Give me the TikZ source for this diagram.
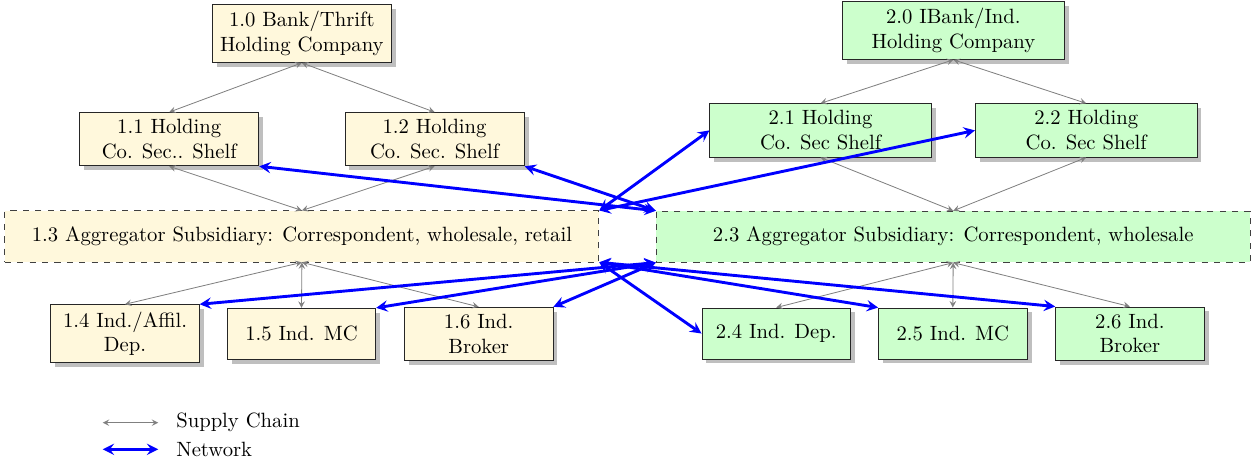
\documentclass[tikz,border=0pt]{standalone}
\usetikzlibrary{shadows,arrows}
\definecolor{cornsilk}{RGB}{255,248,220}
\definecolor{palegreen}{RGB}{204,255,204}
\begin{document}
\begin{tikzpicture}[x=0.484pt,y=-0.484pt,
  base/.style={draw=black!85,align=center,minimum height=24.7pt,inner sep=3.33pt},
  onebox/.style={base,fill=cornsilk,drop shadow},
  twobox/.style={base,fill=palegreen,drop shadow},
  aggone/.style={base,fill=cornsilk,dashed,draw=black!75,minimum width=287.5pt},
  aggtwo/.style={base,fill=palegreen,dashed,draw=black!75,minimum width=287.5pt},
  topone/.style={minimum width=86.8pt},
  toptwo/.style={minimum width=107.2pt},
  leaf/.style={minimum width=71.9pt},
  supply/.style={draw=gray,<->,>=stealth,line width=0.4pt},
  network/.style={draw=blue,<->,>=stealth,line width=1.4pt},
  legtext/.style={anchor=west,inner sep=3.33pt}]
\useasboundingbox (0,0) rectangle (1252,460);
% tier 1
\node[onebox,topone] (n10) at (301.8,33.3) {1.0 Bank/Thrift\\Holding Company};
\node[onebox,topone] (n11) at (169.2,139.2) {1.1 Holding\\Co. Sec.. Shelf};
\node[onebox,topone] (n12) at (434.6,139.2) {1.2 Holding\\Co. Sec. Shelf};
\node[aggone] (n13) at (301.9,236.4) {1.3 Aggregator Subsidiary: Correspondent, wholesale, retail};
\node[onebox,leaf] (n14) at (125,333.7) {1.4 Ind./Affil.\\Dep.};
\node[onebox,leaf] (n15) at (301.5,333.8) {1.5 Ind. MC};
\node[onebox,leaf] (n16) at (478.7,333.8) {1.6 Ind.\\Broker};
% tier 2
\node[twobox,toptwo] (n20) at (953.4,30.2) {2.0 IBank/Ind.\\Holding Company};
\node[twobox,toptwo] (n21) at (820.6,130.4) {2.1 Holding\\Co. Sec Shelf};
\node[twobox,toptwo] (n22) at (1086.2,130.4) {2.2 Holding\\Co. Sec Shelf};
\node[aggtwo] (n23) at (953.2,236.7) {2.3 Aggregator Subsidiary: Correspondent, wholesale};
\node[twobox,leaf] (n24) at (776.2,333.5) {2.4 Ind. Dep.};
\node[twobox,leaf] (n25) at (952.8,333.5) {2.5 Ind. MC};
\node[twobox,leaf] (n26) at (1129.9,333.5) {2.6 Ind.\\Broker};
% supply chain
\draw[supply] (n10.south) -- (n11.north);
\draw[supply] (n10.south) -- (n12.north);
\draw[supply] (n11.south) -- (n13.north);
\draw[supply] (n12.south) -- (n13.north);
\draw[supply] (n13.south) -- (n14.north);
\draw[supply] (n13.south) -- (n15.north);
\draw[supply] (n13.south) -- (n16.north);
\draw[supply] (n20.south) -- (n21.north);
\draw[supply] (n20.south) -- (n22.north);
\draw[supply] (n21.south) -- (n23.north);
\draw[supply] (n22.south) -- (n23.north);
\draw[supply] (n23.south) -- (n24.north);
\draw[supply] (n23.south) -- (n25.north);
\draw[supply] (n23.south) -- (n26.north);
% network
\draw[network] (n11.south east) -- (n23.north west);
\draw[network] (n12.south east) -- (n23.north west);
\draw[network] (n13.north east) -- (n21.west);
\draw[network] (n13.north east) -- (n22.west);
\draw[network] (n14.north east) -- (n23.south west);
\draw[network] (n15.north east) -- (n23.south west);
\draw[network] (n16.north east) -- (n23.south west);
\draw[network] (n13.south east) -- (n24.west);
\draw[network] (n13.south east) -- (n25.north west);
\draw[network] (n13.south east) -- (n26.north west);
% legend
\coordinate (la) at (102.7,422.7);
\coordinate (lb) at (158.3,422.7);
\coordinate (lc) at (102.7,449.3);
\coordinate (ld) at (158.3,449.3);
\draw[supply] (la) -- (lb);
\draw[network] (lc) -- (ld);
\node[legtext] (lt1) at (169,422.7) {Supply Chain};
\node[legtext] (lt2) at (169,449.3) {Network};
\end{tikzpicture}
\end{document}
